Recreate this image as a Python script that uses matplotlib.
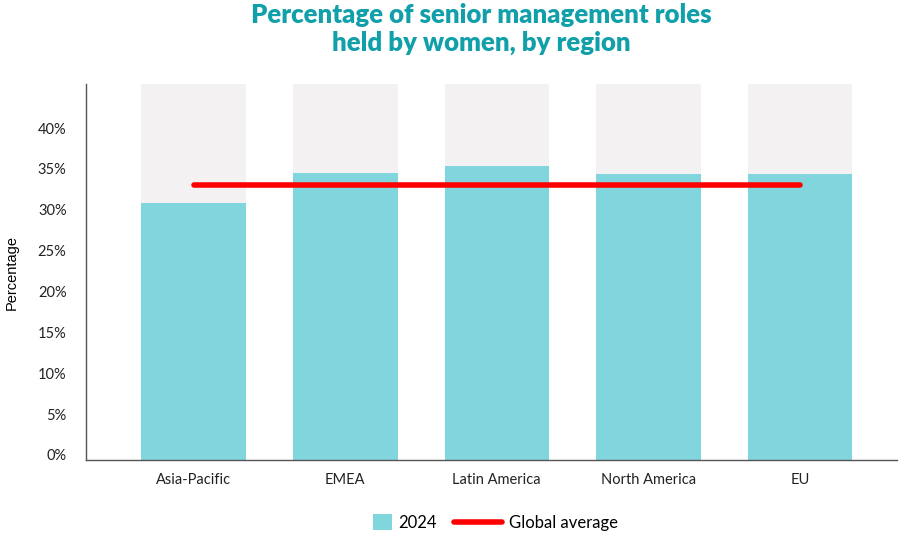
import matplotlib.pyplot as plt
import matplotlib.transforms as mtransforms
from matplotlib.patches import Patch
from matplotlib.lines import Line2D
import numpy as np

# data
regions = ['Asia-Pacific', 'EMEA', 'Latin America', 'North America', 'EU']
values_2024 = [31.4, 35.1, 36.0, 35.0, 35.0]
global_average = 33.7
y_max = 46.0
y_ticks = [0, 5, 10, 15, 20, 25, 30, 35, 40]
y_tick_labels = ['0%', '5%', '10%', '15%', '20%', '25%', '30%', '35%', '40%']

teal = '#80d6dc'
track = '#f3f1f1'
red = '#ff0000'
title_color = '#11a0aa'

fig = plt.figure(figsize=(9, 5.39), dpi=100)
ax = fig.add_axes([86 / 900, 1 - 460 / 539, (897 - 86) / 900, (460 - 84) / 539])

x = np.arange(len(regions))
bar_w = 0.69
ax.bar(x, [y_max] * len(regions), width=bar_w, color=track, zorder=1)
ax.bar(x, values_2024, width=bar_w, color=teal, zorder=2)
ax.plot([x[0], x[-1]], [global_average, global_average], color=red, lw=4,
        solid_capstyle='round', zorder=3)

ax.set_xlim(-0.71, len(regions) - 1 + 0.64)
ax.set_ylim(0, y_max)
ax.set_yticks(y_ticks)
ax.set_yticklabels(y_tick_labels, fontsize=10.5, family='Lato', color='#222222')
ax.set_xticks(x)
ax.set_xticklabels(regions, fontsize=10.5, family='Lato', color='#222222')
ax.tick_params(axis='both', length=0)
ax.tick_params(axis='y', pad=14)
ax.tick_params(axis='x', pad=9)
off = mtransforms.ScaledTranslation(0, 5 / 100, fig.dpi_scale_trans)
for lab in ax.get_yticklabels():
    lab.set_transform(lab.get_transform() + off)

ax.set_ylabel('Percentage', fontsize=10.5, family='Liberation Sans', labelpad=14)
ax.spines[['top', 'right']].set_visible(False)
for s in ['left', 'bottom']:
    ax.spines[s].set_color('#555555')
    ax.spines[s].set_linewidth(1.0)

fig.text(0.535, 0.995, 'Percentage of senior management roles\nheld by women, by region',
         ha='center', va='top', fontsize=18.5, fontweight='heavy', family='Lato',
         color=title_color, linespacing=1.2)

# two legends so each key can have its own handle length
leg_font = {'family': 'Lato', 'size': 12}
leg1 = fig.legend(handles=[Patch(facecolor=teal, edgecolor='none', label='2024')],
                  loc='center', bbox_to_anchor=(405 / 900, 0.03), frameon=False,
                  prop=leg_font, handlelength=1.1, handleheight=1.1, handletextpad=0.4)
fig.legend(handles=[Line2D([0, 1], [0, 0], color=red, lw=4, solid_capstyle='round',
                           label='Global average')],
           loc='center', bbox_to_anchor=(536 / 900, 0.03), frameon=False,
           prop=leg_font, handlelength=2.9, handletextpad=0.4)

fig.savefig('out.png', dpi=100)
